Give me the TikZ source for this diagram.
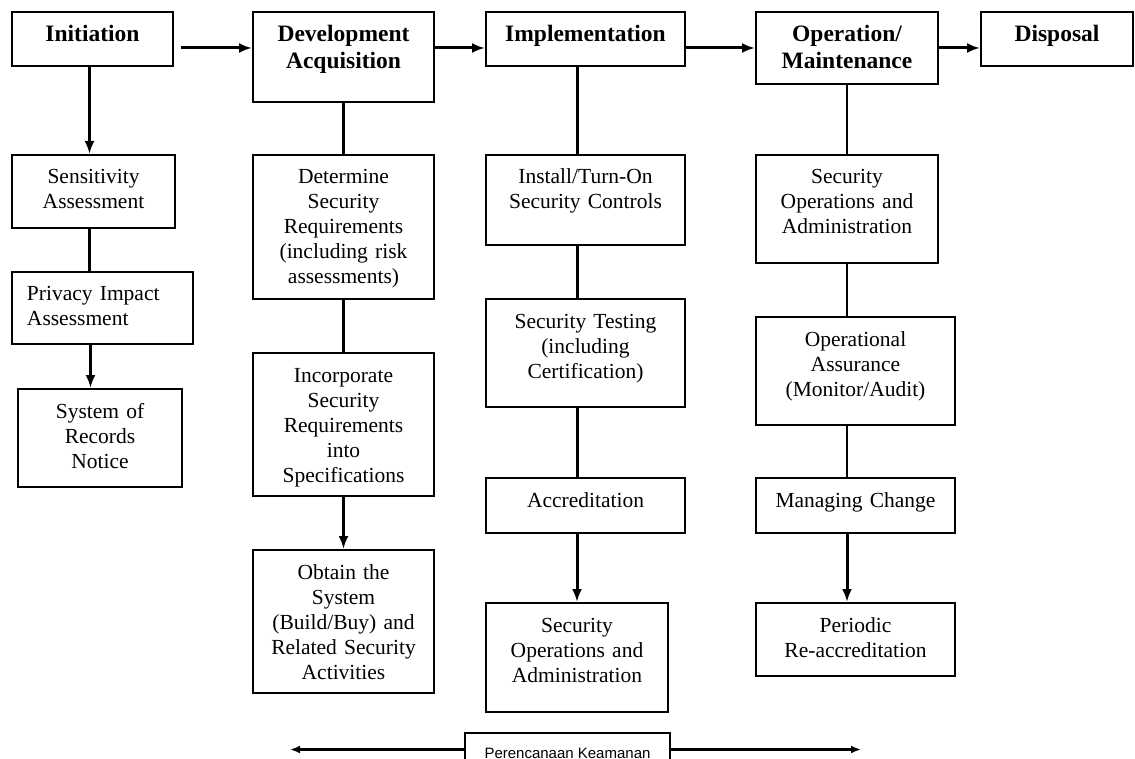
\documentclass[tikz,border=0pt]{standalone}
\usepackage{fontspec}
\setmainfont{Liberation Serif}
\newfontfamily\plansans{Liberation Sans}
\usetikzlibrary{calc,arrows.meta}
\tikzset{>={Latex[length=13pt,width=10pt]}}
\newcommand{\taskfont}{\fontsize{21.5}{25}\selectfont}
\newcommand{\phasefont}{\fontsize{23.5}{27}\selectfont\bfseries}

\begin{document}
\begin{tikzpicture}[x=1pt,y=-1pt,
  task/.style 2 args={draw,line width=2pt,anchor=north west,inner sep=0pt,
    align=center,text width=#1,text height=29pt,text depth=#2,font=\taskfont},
  phase/.style 2 args={task={#1}{#2},text height=30pt,font=\phasefont},
  link/.style={line width=2.2pt},
  flow/.style={->,line width=3pt}]
  \useasboundingbox[fill=white] (0,0) rectangle (1135,759);
  % phases
  \node[phase={161pt}{24pt}] (init) at (11,11) {Initiation};
  \node[phase={181pt}{60pt}] (dev) at (252,11) {Development\\Acquisition};
  \node[phase={199pt}{24pt}] (impl) at (485,11) {Implementation};
  \node[phase={182pt}{42pt}] (oper) at (755,11) {Operation/\\Maintenance};
  \node[phase={152pt}{24pt}] (disp) at (980,11) {Disposal};
  % phase arrows
  \coordinate (flowline) at (0,48);
  \draw[flow] ($(init.east |- flowline)+(7pt,0)$) -- (dev.west |- flowline);
  \draw[flow] (dev.east |- flowline) -- (impl.west |- flowline);
  \draw[flow] (impl.east |- flowline) -- (oper.west |- flowline);
  \draw[flow] (oper.east |- flowline) -- (disp.west |- flowline);
  % initiation
  \node[task={163pt}{44pt}] (sens) at (11,154) {Sensitivity\\Assessment};
  \node[task={151pt}{43pt},align=left,inner xsep=15pt] (priv) at (11,271) {Privacy Impact\\Assessment};
  \node[task={164pt}{69pt}] (sorn) at (17,388) {System of\\Records\\Notice};
  \draw[flow] ([xshift=-3pt]init.south) -- ([xshift=-3pt]init.south |- sens.north);
  \draw[link] ([xshift=-3pt]init.south |- sens.south) -- ([xshift=-3pt]init.south |- priv.north);
  \draw[flow] ([xshift=-2pt]init.south |- priv.south) -- ([xshift=-2pt]init.south |- sorn.north);
  % development / acquisition
  \node[task={181pt}{115pt}] (detreq) at (252,154) {Determine\\Security\\Requirements\\(including risk\\assessments)};
  \node[task={181pt}{114pt}] (incorp) at (252,352) {Incorporate\\Security\\Requirements\\into\\Specifications};
  \node[task={181pt}{114pt}] (obtain) at (252,549) {Obtain the\\System\\(Build/Buy) and\\Related Security\\Activities};
  \draw[link] (dev) -- (detreq);
  \draw[link] (detreq) -- (incorp);
  \draw[flow] (incorp) -- (obtain);
  % implementation
  \node[task={199pt}{61pt}] (install) at (485,154) {Install/Turn-On\\Security Controls};
  \node[task={199pt}{79pt}] (sectest) at (485,298) {Security Testing\\(including\\Certification)};
  \node[task={199pt}{26pt}] (accred) at (485,477) {Accreditation};
  \node[task={182pt}{80pt}] (implops) at (485,602) {Security\\Operations and\\Administration};
  \draw[link] ([xshift=-8pt]impl.south) -- ([xshift=-8pt]impl.south |- install.north);
  \draw[link] ([xshift=-8pt]impl.south |- install.south) -- ([xshift=-8pt]impl.south |- sectest.north);
  \draw[link] ([xshift=-8pt]impl.south |- sectest.south) -- ([xshift=-8pt]impl.south |- accred.north);
  \draw[flow] (implops.north |- accred.south) -- (implops.north);
  % operation / maintenance
  \node[task={182pt}{79pt}] (operops) at (755,154) {Security\\Operations and\\Administration};
  \node[task={199pt}{79pt}] (assur) at (755,316) {Operational\\Assurance\\(Monitor/Audit)};
  \node[task={199pt}{26pt}] (change) at (755,477) {Managing Change};
  \node[task={199pt}{44pt}] (reacc) at (755,602) {Periodic\\Re-accreditation};
  \draw[link] (oper) -- (operops);
  \draw[link] (operops.south) -- (operops.south |- assur.north);
  \draw[link] (operops.south |- assur.south) -- (operops.south |- change.north);
  \draw[flow] (operops.south |- change.south) -- (operops.south |- reacc.north);
  % planning span
  \node[draw,line width=2pt,inner sep=0pt,minimum width=205pt,text height=25pt,text depth=8pt,
    anchor=north,font=\plansans\fontsize{15}{18}\selectfont] (plan) at (567.5,732) {Perencanaan Keamanan};
  \coordinate (planleft) at (290,747);
  \coordinate (planright) at (861,747);
  \draw[flow,line width=2.4pt,>={Latex[length=10pt,width=8pt]}] (plan.west) -- (plan.west -| planleft);
  \draw[flow,line width=2.4pt,>={Latex[length=10pt,width=8pt]}] (plan.east) -- (plan.east -| planright);
\end{tikzpicture}
\end{document}
